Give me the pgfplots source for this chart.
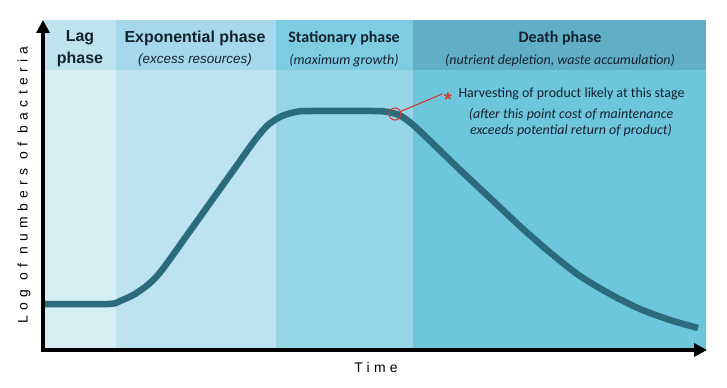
\documentclass[border=0pt]{standalone}
\usepackage{pgfplots}
\pgfplotsset{compat=1.18}
\usepackage{fontspec}
\usetikzlibrary{arrows.meta}
\setmainfont{Liberation Sans}
\newfontfamily\carl{Carlito}
\newfontfamily\spaced[LetterSpace=31]{Liberation Sans}
\newfontfamily\spacedy[LetterSpace=38]{Liberation Sans}
\definecolor{lagB}{HTML}{D6EDF4}
\definecolor{lagH}{HTML}{BEE3EF}
\definecolor{expB}{HTML}{BDE3F0}
\definecolor{expH}{HTML}{A4D8EA}
\definecolor{staB}{HTML}{96D5E6}
\definecolor{staH}{HTML}{7ECCE1}
\definecolor{deaB}{HTML}{6EC6DD}
\definecolor{deaH}{HTML}{61AFC6}
\definecolor{curve}{HTML}{2B6B7C}
\definecolor{txt}{HTML}{15222E}
\definecolor{harv}{HTML}{D23A32}
\begin{document}
\begin{tikzpicture}
\begin{axis}[
  width=727bp, height=388bp, scale only axis,
  xmin=0, xmax=727, ymin=0, ymax=388,
  hide axis, clip=false,
]
\addplot[draw=none] coordinates {(0,0) (727,388)};
% phase bands (body)
\addplot[fill=lagB, draw=none] coordinates {(43,38) (116,38) (116,318) (43,318)};
\addplot[fill=expB, draw=none] coordinates {(116,38) (276,38) (276,318) (116,318)};
\addplot[fill=staB, draw=none] coordinates {(276,38) (413,38) (413,318) (276,318)};
\addplot[fill=deaB, draw=none] coordinates {(413,38) (706,38) (706,318) (413,318)};
% header strip
\addplot[fill=lagH, draw=none] coordinates {(43,318) (116,318) (116,368) (43,368)};
\addplot[fill=expH, draw=none] coordinates {(116,318) (276,318) (276,368) (116,368)};
\addplot[fill=staH, draw=none] coordinates {(276,318) (413,318) (413,368) (276,368)};
\addplot[fill=deaH, draw=none] coordinates {(413,318) (706,318) (706,368) (413,368)};
% growth curve
\addplot[curve, line width=6.5bp, smooth, tension=0.5] coordinates {
 (45,84) (108,84) (120,87) (135,94) (150,105) (162,118) (185,150) (210,185)
 (235,220) (255,248) (268,263) (282,272) (298,276.5) (312,277) (373,277)
 (388,276) (400,272.5) (412,264) (425,252) (457,221) (490,190) (523,159)
 (553,133) (580,112) (610,94) (640,79) (670,68) (698,60)};
% axes
\addplot[black, line width=3.5bp, -{Triangle[length=13bp,width=13bp]}] coordinates {(43,36.5) (43,368)};
\addplot[black, line width=3.5bp, -{Triangle[length=13bp,width=13bp]}] coordinates {(41.3,38) (707,38)};
% harvest annotation
\addplot[harv, line width=1.1bp] coordinates {(400.5,276.5) (442,294)};
\addplot[harv, only marks, mark=o, mark size=6bp, mark options={line width=1.1bp}] coordinates {(395,274)};
\node[anchor=base, inner sep=0pt, text=harv, font=\bfseries\fontsize{20}{20}\selectfont] at (axis cs:448,281.5) {*};
\node[anchor=west, text=txt, font=\carl\fontsize{14}{16}\selectfont] at (axis cs:455,294) {Harvesting of product likely at this stage};
\node[text=txt, font=\carl\itshape\fontsize{14}{16}\selectfont] at (axis cs:571,273) {(after this point cost of maintenance};
\node[text=txt, font=\carl\itshape\fontsize{14}{16}\selectfont] at (axis cs:571,257) {exceeds potential return of product)};
% headers
\node[text=txt, font=\bfseries\fontsize{16}{18}\selectfont] at (axis cs:80,350) {Lag};
\node[text=txt, font=\bfseries\fontsize{16}{18}\selectfont] at (axis cs:80,329) {phase};
\node[text=txt, font=\bfseries\fontsize{16}{18}\selectfont] at (axis cs:195,350) {Exponential phase};
\node[text=txt, font=\itshape\fontsize{13.5}{16}\selectfont] at (axis cs:195,328) {(excess resources)};
\node[text=txt, font=\carl\bfseries\fontsize{16}{18}\selectfont] at (axis cs:344,350) {Stationary phase};
\node[text=txt, font=\carl\itshape\fontsize{14}{16}\selectfont] at (axis cs:344,327) {(maximum growth)};
\node[text=txt, font=\carl\bfseries\fontsize{16}{18}\selectfont] at (axis cs:560,350) {Death phase};
\node[text=txt, font=\carl\itshape\fontsize{14}{16}\selectfont] at (axis cs:560,327) {(nutrient depletion, waste accumulation)};
% axis labels
\node[rotate=90, text=black, font=\spacedy\fontsize{14}{16}\selectfont] at (axis cs:24,203) {Log of numbers of bacteria};
\node[text=black, font=\spaced\fontsize{14}{16}\selectfont] at (axis cs:376,20) {Time};
\end{axis}
\end{tikzpicture}
\end{document}
